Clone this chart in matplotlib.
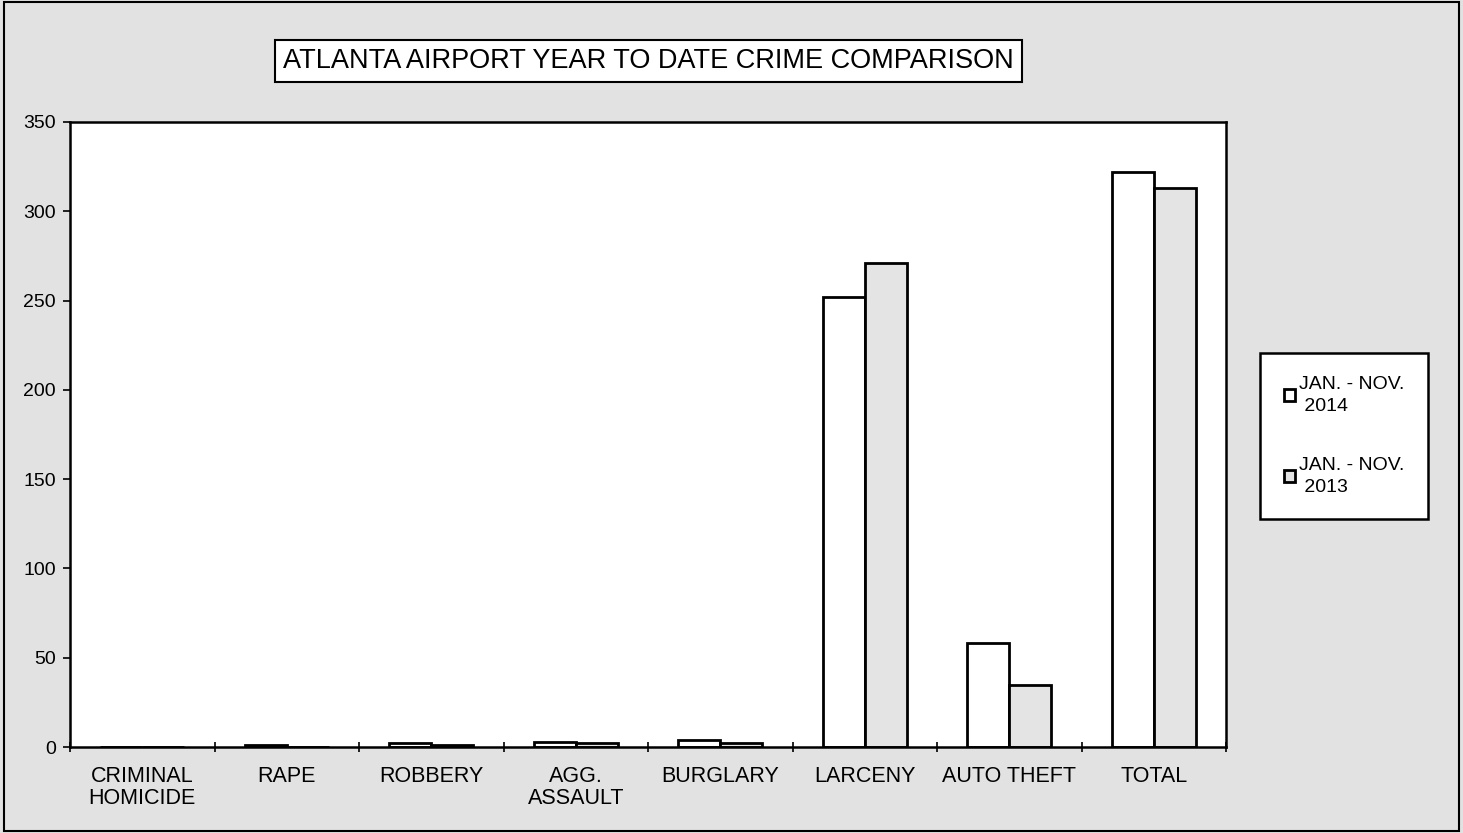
import matplotlib.pyplot as plt
import numpy as np
from matplotlib.patches import Rectangle

plt.rcParams['font.family'] = ['Liberation Sans', 'DejaVu Sans']

# datos
categorias = ['CRIMINAL\nHOMICIDE', 'RAPE', 'ROBBERY', 'AGG.\nASSAULT', 'BURGLARY',
              'LARCENY', 'AUTO THEFT', 'TOTAL']
ytd_2014 = [0, 1, 2, 3, 4, 252, 58, 322]
ytd_2013 = [0, 0, 1, 2, 2, 271, 35, 313]
series = ['JAN. - NOV.\n 2014', 'JAN. - NOV.\n 2013']

fig = plt.figure(figsize=(14.63, 8.33), dpi=100)
fig.patch.set_facecolor('#e2e2e2')
# marco exterior
fig.patches.append(Rectangle((0.003, 0.003), 0.994, 0.994, transform=fig.transFigure,
                             fill=False, edgecolor='black', linewidth=1.5))

ax = fig.add_axes([70/1463, 1-747/833, (1226-70)/1463, (747-122)/833])
ax.set_facecolor('white')

x = np.arange(len(categorias))
w = 0.29
ax.bar(x - w/2, ytd_2014, w, color='white', edgecolor='black', linewidth=2, label=series[0])
ax.bar(x + w/2, ytd_2013, w, color='#e4e4e4', edgecolor='black', linewidth=2, label=series[1])

ax.set_xlim(-0.5, len(categorias) - 0.5)
ax.set_ylim(0, 350)
ax.set_yticks(range(0, 351, 50))
ax.set_xticks(x)
ax.set_xticklabels(categorias, fontsize=15.5, linespacing=1.05)
ax.tick_params(axis='x', length=0, pad=14)
ax.set_xticks(np.arange(-0.5, len(categorias), 1), minor=True)
ax.tick_params(axis='x', which='minor', length=7, width=1.2, direction='inout')
ax.tick_params(axis='y', labelsize=14, length=5, width=1.2, direction='out', pad=5)
for s in ax.spines.values():
    s.set_linewidth(1.8)

# titulo en caja
fig.text(648/1463, 1-61/833, 'ATLANTA AIRPORT YEAR TO DATE CRIME COMPARISON',
         ha='center', va='center', fontsize=19.5,
         bbox=dict(boxstyle='square,pad=0.3', facecolor='white', edgecolor='black', linewidth=1.5))

leg = fig.legend(loc='center', bbox_to_anchor=(1344/1463, 1-436/833), fontsize=14,
                 frameon=True, fancybox=False, edgecolor='black', framealpha=1,
                 handlelength=0.6, handleheight=0.6, handletextpad=0.2,
                 labelspacing=2.2, borderpad=1.2)
leg.get_frame().set_linewidth(1.8)
for t in leg.get_texts():
    t.set_multialignment('left')
    t.set_linespacing(1.35)

plt.savefig('out.png', dpi=100, facecolor=fig.get_facecolor())
